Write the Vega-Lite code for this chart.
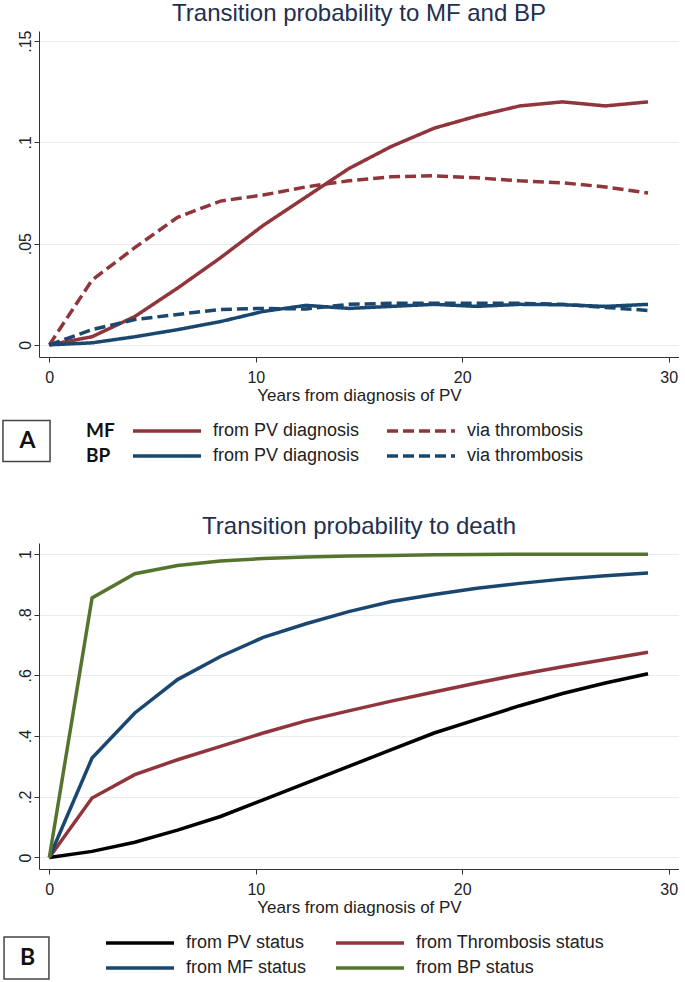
{
  "$schema": "https://vega.github.io/schema/vega-lite/v6.json",
  "padding": {"left": 3, "top": 2, "right": 0, "bottom": 0},
  "spacing": 49,
  "resolve": {
    "scale": {"color": "independent", "strokeDash": "independent", "opacity": "independent"},
    "legend": {"color": "independent", "strokeDash": "independent", "opacity": "independent"}
  },
  "config": {
    "view": {"stroke": null},
    "font": "Liberation Sans",
    "axis": {
      "domainColor": "#333333", "tickColor": "#333333", "labelColor": "#222222", "titleColor": "#222222",
      "labelFont": "Liberation Sans", "titleFont": "Liberation Sans", "labelFontSize": 16, "titleFontSize": 17,
      "titleFontWeight": "normal", "tickSize": 5, "domainWidth": 1, "tickWidth": 1,
      "gridColor": "#E6EDF0", "gridWidth": 1
    },
    "title": {"font": "Liberation Sans", "fontSize": 24, "fontWeight": "normal", "color": "#232F4E", "baseline": "alphabetic"}
  },
  "datasets": {
    "mfbp": [
      {"years": 0, "probability": 0, "series": "MF from PV diagnosis", "panel": "A"},
      {"years": 2.07, "probability": 0.004, "series": "MF from PV diagnosis", "panel": "A"},
      {"years": 4.14, "probability": 0.014, "series": "MF from PV diagnosis", "panel": "A"},
      {"years": 6.21, "probability": 0.028, "series": "MF from PV diagnosis", "panel": "A"},
      {"years": 8.29, "probability": 0.043, "series": "MF from PV diagnosis", "panel": "A"},
      {"years": 10.36, "probability": 0.059, "series": "MF from PV diagnosis", "panel": "A"},
      {"years": 12.43, "probability": 0.073, "series": "MF from PV diagnosis", "panel": "A"},
      {"years": 14.5, "probability": 0.087, "series": "MF from PV diagnosis", "panel": "A"},
      {"years": 16.57, "probability": 0.098, "series": "MF from PV diagnosis", "panel": "A"},
      {"years": 18.64, "probability": 0.107, "series": "MF from PV diagnosis", "panel": "A"},
      {"years": 20.71, "probability": 0.113, "series": "MF from PV diagnosis", "panel": "A"},
      {"years": 22.79, "probability": 0.118, "series": "MF from PV diagnosis", "panel": "A"},
      {"years": 24.86, "probability": 0.12, "series": "MF from PV diagnosis", "panel": "A"},
      {"years": 26.93, "probability": 0.118, "series": "MF from PV diagnosis", "panel": "A"},
      {"years": 29, "probability": 0.12, "series": "MF from PV diagnosis", "panel": "A"},
      {"years": 0, "probability": 0, "series": "MF via thrombosis", "panel": "A"},
      {"years": 2.07, "probability": 0.032, "series": "MF via thrombosis", "panel": "A"},
      {"years": 4.14, "probability": 0.048, "series": "MF via thrombosis", "panel": "A"},
      {"years": 6.21, "probability": 0.063, "series": "MF via thrombosis", "panel": "A"},
      {"years": 8.29, "probability": 0.071, "series": "MF via thrombosis", "panel": "A"},
      {"years": 10.36, "probability": 0.074, "series": "MF via thrombosis", "panel": "A"},
      {"years": 12.43, "probability": 0.078, "series": "MF via thrombosis", "panel": "A"},
      {"years": 14.5, "probability": 0.081, "series": "MF via thrombosis", "panel": "A"},
      {"years": 16.57, "probability": 0.083, "series": "MF via thrombosis", "panel": "A"},
      {"years": 18.64, "probability": 0.0835, "series": "MF via thrombosis", "panel": "A"},
      {"years": 20.71, "probability": 0.0825, "series": "MF via thrombosis", "panel": "A"},
      {"years": 22.79, "probability": 0.081, "series": "MF via thrombosis", "panel": "A"},
      {"years": 24.86, "probability": 0.08, "series": "MF via thrombosis", "panel": "A"},
      {"years": 26.93, "probability": 0.078, "series": "MF via thrombosis", "panel": "A"},
      {"years": 29, "probability": 0.075, "series": "MF via thrombosis", "panel": "A"},
      {"years": 0, "probability": 0, "series": "BP from PV diagnosis", "panel": "A"},
      {"years": 2.07, "probability": 0.001, "series": "BP from PV diagnosis", "panel": "A"},
      {"years": 4.14, "probability": 0.004, "series": "BP from PV diagnosis", "panel": "A"},
      {"years": 6.21, "probability": 0.0075, "series": "BP from PV diagnosis", "panel": "A"},
      {"years": 8.29, "probability": 0.0115, "series": "BP from PV diagnosis", "panel": "A"},
      {"years": 10.36, "probability": 0.0165, "series": "BP from PV diagnosis", "panel": "A"},
      {"years": 12.43, "probability": 0.0195, "series": "BP from PV diagnosis", "panel": "A"},
      {"years": 14.5, "probability": 0.018, "series": "BP from PV diagnosis", "panel": "A"},
      {"years": 16.57, "probability": 0.019, "series": "BP from PV diagnosis", "panel": "A"},
      {"years": 18.64, "probability": 0.02, "series": "BP from PV diagnosis", "panel": "A"},
      {"years": 20.71, "probability": 0.019, "series": "BP from PV diagnosis", "panel": "A"},
      {"years": 22.79, "probability": 0.02, "series": "BP from PV diagnosis", "panel": "A"},
      {"years": 24.86, "probability": 0.0198, "series": "BP from PV diagnosis", "panel": "A"},
      {"years": 26.93, "probability": 0.019, "series": "BP from PV diagnosis", "panel": "A"},
      {"years": 29, "probability": 0.02, "series": "BP from PV diagnosis", "panel": "A"},
      {"years": 0, "probability": 0, "series": "BP via thrombosis", "panel": "A"},
      {"years": 2.07, "probability": 0.0075, "series": "BP via thrombosis", "panel": "A"},
      {"years": 4.14, "probability": 0.0125, "series": "BP via thrombosis", "panel": "A"},
      {"years": 6.21, "probability": 0.015, "series": "BP via thrombosis", "panel": "A"},
      {"years": 8.29, "probability": 0.0175, "series": "BP via thrombosis", "panel": "A"},
      {"years": 10.36, "probability": 0.018, "series": "BP via thrombosis", "panel": "A"},
      {"years": 12.43, "probability": 0.0177, "series": "BP via thrombosis", "panel": "A"},
      {"years": 14.5, "probability": 0.02, "series": "BP via thrombosis", "panel": "A"},
      {"years": 16.57, "probability": 0.0205, "series": "BP via thrombosis", "panel": "A"},
      {"years": 18.64, "probability": 0.0205, "series": "BP via thrombosis", "panel": "A"},
      {"years": 20.71, "probability": 0.0205, "series": "BP via thrombosis", "panel": "A"},
      {"years": 22.79, "probability": 0.0205, "series": "BP via thrombosis", "panel": "A"},
      {"years": 24.86, "probability": 0.02, "series": "BP via thrombosis", "panel": "A"},
      {"years": 26.93, "probability": 0.0185, "series": "BP via thrombosis", "panel": "A"},
      {"years": 29, "probability": 0.017, "series": "BP via thrombosis", "panel": "A"}
    ],
    "death": [
      {"years": 0, "probability": 0, "series": "from PV status", "panel": "B"},
      {"years": 2.07, "probability": 0.02, "series": "from PV status", "panel": "B"},
      {"years": 4.14, "probability": 0.05, "series": "from PV status", "panel": "B"},
      {"years": 6.21, "probability": 0.09, "series": "from PV status", "panel": "B"},
      {"years": 8.29, "probability": 0.135, "series": "from PV status", "panel": "B"},
      {"years": 10.36, "probability": 0.19, "series": "from PV status", "panel": "B"},
      {"years": 12.43, "probability": 0.245, "series": "from PV status", "panel": "B"},
      {"years": 14.5, "probability": 0.3, "series": "from PV status", "panel": "B"},
      {"years": 16.57, "probability": 0.355, "series": "from PV status", "panel": "B"},
      {"years": 18.64, "probability": 0.41, "series": "from PV status", "panel": "B"},
      {"years": 20.71, "probability": 0.455, "series": "from PV status", "panel": "B"},
      {"years": 22.79, "probability": 0.5, "series": "from PV status", "panel": "B"},
      {"years": 24.86, "probability": 0.54, "series": "from PV status", "panel": "B"},
      {"years": 26.93, "probability": 0.575, "series": "from PV status", "panel": "B"},
      {"years": 29, "probability": 0.605, "series": "from PV status", "panel": "B"},
      {"years": 0, "probability": 0, "series": "from Thrombosis status", "panel": "B"},
      {"years": 2.07, "probability": 0.196, "series": "from Thrombosis status", "panel": "B"},
      {"years": 4.14, "probability": 0.273, "series": "from Thrombosis status", "panel": "B"},
      {"years": 6.21, "probability": 0.322, "series": "from Thrombosis status", "panel": "B"},
      {"years": 8.29, "probability": 0.366, "series": "from Thrombosis status", "panel": "B"},
      {"years": 10.36, "probability": 0.41, "series": "from Thrombosis status", "panel": "B"},
      {"years": 12.43, "probability": 0.45, "series": "from Thrombosis status", "panel": "B"},
      {"years": 14.5, "probability": 0.483, "series": "from Thrombosis status", "panel": "B"},
      {"years": 16.57, "probability": 0.515, "series": "from Thrombosis status", "panel": "B"},
      {"years": 18.64, "probability": 0.545, "series": "from Thrombosis status", "panel": "B"},
      {"years": 20.71, "probability": 0.575, "series": "from Thrombosis status", "panel": "B"},
      {"years": 22.79, "probability": 0.603, "series": "from Thrombosis status", "panel": "B"},
      {"years": 24.86, "probability": 0.628, "series": "from Thrombosis status", "panel": "B"},
      {"years": 26.93, "probability": 0.652, "series": "from Thrombosis status", "panel": "B"},
      {"years": 29, "probability": 0.676, "series": "from Thrombosis status", "panel": "B"},
      {"years": 0, "probability": 0, "series": "from MF status", "panel": "B"},
      {"years": 2.07, "probability": 0.3275, "series": "from MF status", "panel": "B"},
      {"years": 4.14, "probability": 0.476, "series": "from MF status", "panel": "B"},
      {"years": 6.21, "probability": 0.586, "series": "from MF status", "panel": "B"},
      {"years": 8.29, "probability": 0.662, "series": "from MF status", "panel": "B"},
      {"years": 10.36, "probability": 0.725, "series": "from MF status", "panel": "B"},
      {"years": 12.43, "probability": 0.77, "series": "from MF status", "panel": "B"},
      {"years": 14.5, "probability": 0.81, "series": "from MF status", "panel": "B"},
      {"years": 16.57, "probability": 0.843, "series": "from MF status", "panel": "B"},
      {"years": 18.64, "probability": 0.866, "series": "from MF status", "panel": "B"},
      {"years": 20.71, "probability": 0.887, "series": "from MF status", "panel": "B"},
      {"years": 22.79, "probability": 0.903, "series": "from MF status", "panel": "B"},
      {"years": 24.86, "probability": 0.917, "series": "from MF status", "panel": "B"},
      {"years": 26.93, "probability": 0.928, "series": "from MF status", "panel": "B"},
      {"years": 29, "probability": 0.937, "series": "from MF status", "panel": "B"},
      {"years": 0, "probability": 0, "series": "from BP status", "panel": "B"},
      {"years": 2.07, "probability": 0.855, "series": "from BP status", "panel": "B"},
      {"years": 4.14, "probability": 0.935, "series": "from BP status", "panel": "B"},
      {"years": 6.21, "probability": 0.962, "series": "from BP status", "panel": "B"},
      {"years": 8.29, "probability": 0.977, "series": "from BP status", "panel": "B"},
      {"years": 10.36, "probability": 0.985, "series": "from BP status", "panel": "B"},
      {"years": 12.43, "probability": 0.99, "series": "from BP status", "panel": "B"},
      {"years": 14.5, "probability": 0.993, "series": "from BP status", "panel": "B"},
      {"years": 16.57, "probability": 0.995, "series": "from BP status", "panel": "B"},
      {"years": 18.64, "probability": 0.997, "series": "from BP status", "panel": "B"},
      {"years": 20.71, "probability": 0.998, "series": "from BP status", "panel": "B"},
      {"years": 22.79, "probability": 0.999, "series": "from BP status", "panel": "B"},
      {"years": 24.86, "probability": 0.999, "series": "from BP status", "panel": "B"},
      {"years": 26.93, "probability": 0.999, "series": "from BP status", "panel": "B"},
      {"years": 29, "probability": 0.999, "series": "from BP status", "panel": "B"}
    ]
  },
  "vconcat": [
    {
      "width": 640,
      "height": 326,
      "title": {"text": "Transition probability to MF and BP", "offset": 4},
      "data": {"name": "mfbp"},
      "mark": {"type": "line", "strokeWidth": 3.5},
      "encoding": {
        "x": {
          "field": "years", "type": "quantitative",
          "scale": {"domain": [-0.5, 30.5], "nice": false, "zero": false},
          "axis": {"values": [0, 10, 20, 30], "grid": false, "labelPadding": 7, "title": "Years from diagnosis of PV", "titlePadding": 2}
        },
        "y": {
          "field": "probability", "type": "quantitative",
          "scale": {"domain": [-0.006, 0.155], "nice": false, "zero": false},
          "axis": {"values": [0, 0.05, 0.1, 0.15], "grid": true, "labelAngle": -90, "labelAlign": "center", "labelBaseline": "alphabetic", "labelPadding": 4, "title": null,
            "labelExpr": "datum.value == 0 ? '0' : slice(format(datum.value, '.2~f'), 1)"}
        },
        "color": {
          "field": "series", "type": "nominal",
          "scale": {"domain": ["MF from PV diagnosis", "MF via thrombosis", "BP from PV diagnosis", "BP via thrombosis"], "range": ["#90353B", "#90353B", "#1A476F", "#1A476F"]},
          "legend": {"orient": "none", "legendX": 47, "legendY": 391, "columns": 2, "direction": "horizontal", "title": ["MF", "BP"], "titleOrient": "left", "titleFont": "Lato", "titleFontWeight": "bold", "titleFontSize": 19, "titleLineHeight": 25, "titleColor": "#111111", "titlePadding": 16,
            "symbolType": "stroke", "symbolSize": 4624, "symbolStrokeWidth": 3.5, "clipHeight": 18, "rowPadding": 7, "columnPadding": 25,
            "labelFont": "Liberation Sans", "labelFontSize": 18, "labelColor": "#222222", "labelOffset": 10, "labelLimit": 400, "labelExpr": "slice(datum.label, 3)"}
        },
        "strokeDash": {
          "field": "series", "type": "nominal",
          "scale": {"domain": ["MF from PV diagnosis", "MF via thrombosis", "BP from PV diagnosis", "BP via thrombosis"], "range": [[1, 0], [11, 5], [1, 0], [11, 5]]},
          "legend": {"orient": "none", "legendX": 47, "legendY": 391, "columns": 2, "direction": "horizontal", "title": ["MF", "BP"], "titleOrient": "left", "titleFont": "Lato", "titleFontWeight": "bold", "titleFontSize": 19, "titleLineHeight": 25, "titleColor": "#111111", "titlePadding": 16,
            "symbolType": "stroke", "symbolSize": 4624, "symbolStrokeWidth": 3.5, "clipHeight": 18, "rowPadding": 7, "columnPadding": 25,
            "labelFont": "Liberation Sans", "labelFontSize": 18, "labelColor": "#222222", "labelOffset": 10, "labelLimit": 400, "labelExpr": "slice(datum.label, 3)"}
        },
        "opacity": {
          "field": "panel", "type": "nominal",
          "scale": {"type": "point", "domain": ["A"], "range": [1, 1]},
          "legend": {"orient": "none", "legendX": -35.5, "legendY": 387, "title": null, "padding": 0,
            "symbolType": "M-1.07,-0.93H1.07V0.93H-1.07Z", "symbolSize": 1936, "symbolStrokeWidth": 1.5, "symbolStrokeColor": "#444444", "symbolFillColor": "transparent",
            "labelFont": "Lato", "labelFontWeight": "bold", "labelFontSize": 23, "labelColor": "#111111", "labelOffset": -22, "labelAlign": "center", "labelBaseline": "middle",
            "encode": {"symbols": {"update": {"stroke": {"value": "#444444"}, "fill": {"value": "transparent"}, "strokeWidth": {"value": 1.5}}}}}
        }
      }
    },
    {
      "width": 640,
      "height": 326,
      "title": {"text": "Transition probability to death", "offset": 4},
      "data": {"name": "death"},
      "mark": {"type": "line", "strokeWidth": 3.5},
      "encoding": {
        "x": {
          "field": "years", "type": "quantitative",
          "scale": {"domain": [-0.5, 30.5], "nice": false, "zero": false},
          "axis": {"values": [0, 10, 20, 30], "grid": false, "labelPadding": 7, "title": "Years from diagnosis of PV", "titlePadding": 2}
        },
        "y": {
          "field": "probability", "type": "quantitative",
          "scale": {"domain": [-0.038, 1.036], "nice": false, "zero": false},
          "axis": {"values": [0, 0.2, 0.4, 0.6, 0.8, 1], "grid": true, "labelAngle": -90, "labelAlign": "center", "labelBaseline": "alphabetic", "labelPadding": 4, "title": null,
            "labelExpr": "datum.value == 0 ? '0' : (datum.value == 1 ? '1' : slice(format(datum.value, '.2~f'), 1))"}
        },
        "color": {
          "field": "series", "type": "nominal",
          "scale": {"domain": ["from PV status", "from Thrombosis status", "from MF status", "from BP status"], "range": ["#000000", "#90353B", "#1A476F", "#55752F"]},
          "legend": {"orient": "none", "legendX": 65, "legendY": 391, "columns": 2, "direction": "horizontal", "title": null,
            "symbolType": "stroke", "symbolSize": 4624, "symbolStrokeWidth": 3.5, "clipHeight": 18, "rowPadding": 7, "columnPadding": 27,
            "labelFont": "Liberation Sans", "labelFontSize": 18, "labelColor": "#222222", "labelOffset": 10, "labelLimit": 400}
        },
        "opacity": {
          "field": "panel", "type": "nominal",
          "scale": {"type": "point", "domain": ["B"], "range": [1, 1]},
          "legend": {"orient": "none", "legendX": -35.5, "legendY": 392, "title": null, "padding": 0,
            "symbolType": "M-1.02,-0.95H1.02V0.95H-1.02Z", "symbolSize": 1936, "symbolStrokeWidth": 1.5, "symbolStrokeColor": "#444444", "symbolFillColor": "transparent",
            "labelFont": "Lato", "labelFontWeight": "bold", "labelFontSize": 23, "labelColor": "#111111", "labelOffset": -22, "labelAlign": "center", "labelBaseline": "middle",
            "encode": {"symbols": {"update": {"stroke": {"value": "#444444"}, "fill": {"value": "transparent"}, "strokeWidth": {"value": 1.5}}}}}
        }
      }
    }
  ]
}
